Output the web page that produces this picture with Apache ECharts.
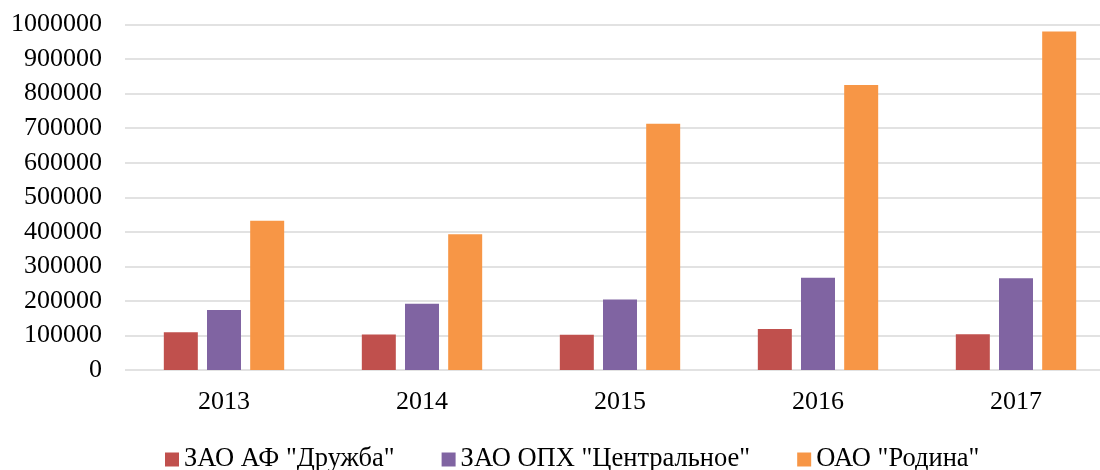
<!DOCTYPE html>
<html>
<head>
<meta charset="utf-8">
<script src="https://cdn.jsdelivr.net/npm/echarts@6/dist/echarts.min.js"></script>
<style>
  html, body { margin: 0; padding: 0; background: #fff; overflow: hidden; }
  #chart { width: 1115px; height: 470px; }
</style>
</head>
<body>
<div id="chart"></div>
<script>
const years = ['2013', '2014', '2015', '2016', '2017']
const seriesNames = ['ЗАО АФ "Дружба"', 'ЗАО ОПХ "Центральное"', 'ОАО "Родина"']
const druzhba = [109500, 102700, 101900, 118800, 103400]
const centralnoe = [173400, 191800, 203900, 266700, 265700]
const rodina = [432000, 393200, 713000, 825000, 980000]
const colors = ['#C0504D', '#8064A2', '#F79646']

const font = "'Liberation Serif', 'Times New Roman', serif"

let chart = echarts.init(document.getElementById('chart'))

function makeBar(name, data, color) {
    return {
        name: name,
        type: 'bar',
        data: data,
        barWidth: 34,
        barGap: '27%',
        itemStyle: { color: color },
        animation: false
    }
}

let option = {
    backgroundColor: '#ffffff',
    textStyle: { fontFamily: font },
    grid: {
        left: 125,
        right: 0,
        top: 24.5,
        bottom: 100,
        containLabel: false
    },
    legend: {
        left: 160,
        top: 441,
        itemWidth: 14,
        itemHeight: 14,
        itemGap: 47,
        icon: 'rect',
        textStyle: {
            fontFamily: font,
            fontSize: 26.5,
            color: '#000'
        },
        data: seriesNames
    },
    xAxis: {
        type: 'category',
        data: years,
        axisLine: { show: false },
        axisTick: { show: false },
        axisLabel: {
            fontFamily: font,
            fontSize: 26,
            color: '#000',
            margin: 19
        }
    },
    yAxis: {
        type: 'value',
        min: 0,
        max: 1000000,
        interval: 100000,
        axisLine: { show: false },
        axisTick: { show: false },
        axisLabel: {
            fontFamily: font,
            fontSize: 26,
            color: '#000',
            margin: 23,
            formatter: function (v) { return String(v) }
        },
        splitLine: {
            lineStyle: { color: '#D9D9D9', width: 1.5 }
        }
    },
    series: [
        makeBar(seriesNames[0], druzhba, colors[0]),
        makeBar(seriesNames[1], centralnoe, colors[1]),
        makeBar(seriesNames[2], rodina, colors[2])
    ]
}

chart.setOption(option)
</script>
</body>
</html>
